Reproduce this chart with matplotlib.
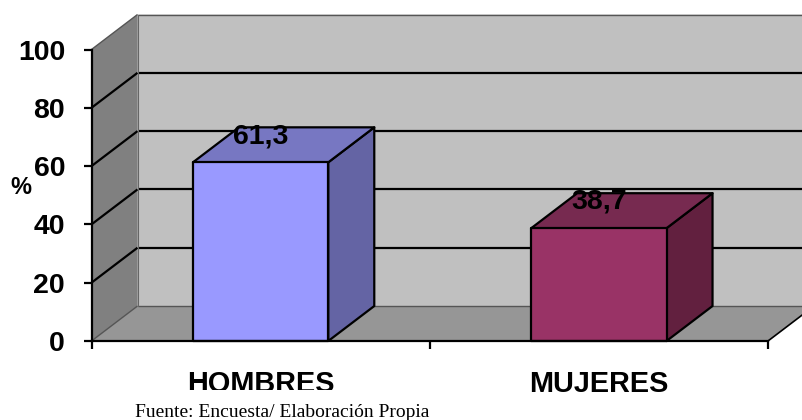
import matplotlib
matplotlib.use("Agg")
import matplotlib.pyplot as plt
from matplotlib.patches import Polygon, Rectangle

categorias = ["HOMBRES", "MUJERES"]
valores = [61.3, 38.7]
etiquetas = ["61,3", "38,7"]
yticks = [0, 20, 40, 60, 80, 100]
colores_frente = ["#9999ff", "#993366"]
colores_lado = ["#6464a4", "#62203f"]
colores_arriba = ["#7777c2", "#772a50"]

W, H = 802, 420
fig = plt.figure(figsize=(W / 100, H / 100), dpi=100, facecolor="white")
ax = fig.add_axes([91.5 / W, (H - 341) / H, (768 - 91.5) / W, 291.5 / H])
ax.set_xlim(0, 2)
ax.set_ylim(0, 100)
ax.patch.set_visible(False)

# 3d offset of the box, in data units
dx = 46 / 338.25
dy = 12.0
ancho = 0.40


def poly(pts, color, ec="black", lw=1.6, z=1):
    ax.add_patch(Polygon(pts, closed=True, fc=color, ec=ec, lw=lw, zorder=z, clip_on=False, joinstyle="round"))


# walls and floor
poly([(0, 0), (dx, dy), (2 + dx, dy), (2 + dx, 100 + dy), (dx, 100 + dy)], "#c0c0c0", ec="none", lw=0, z=1)
poly([(0, 0), (dx, dy), (dx, 100 + dy), (0, 100)], "#808080", ec="none", lw=0, z=1)
poly([(0, 0), (dx, dy), (2 + dx, dy), (2, 0)], "#969696", ec="none", lw=0, z=1)

# grid lines on the walls
for t in yticks:
    color = "black"
    lw = 1.6
    if t in (0, 100):
        color = "#555555"
        lw = 1.0
    ax.plot([0, dx], [t, t + dy], color=color, lw=lw, zorder=2, clip_on=False, solid_capstyle="butt")
    ax.plot([dx, 2 + dx], [t + dy, t + dy], color=color, lw=lw, zorder=2, clip_on=False, solid_capstyle="butt")
ax.plot([2, 2 + dx], [0, dy], color="black", lw=1.2, zorder=2, clip_on=False)
ax.plot([dx, dx], [dy, 100 + dy], color="#666666", lw=0.8, zorder=2, clip_on=False)

# bars
for i, v in enumerate(valores):
    x0 = i + 0.5 - ancho / 2
    x1 = i + 0.5 + ancho / 2
    poly([(x1, 0), (x1 + dx, dy), (x1 + dx, v + dy), (x1, v)], colores_lado[i], z=3)
    poly([(x0, v), (x1, v), (x1 + dx, v + dy), (x0 + dx, v + dy)], colores_arriba[i], z=3)
    poly([(x0, 0), (x1, 0), (x1, v), (x0, v)], colores_frente[i], z=4)
    ax.text(i + 0.5, v + 9.0, etiquetas[i], ha="center", va="center", fontsize=20.5, fontweight="bold",
            family="Liberation Sans", color="black", zorder=6)

for s in ("top", "right"):
    ax.spines[s].set_visible(False)
for s in ("left", "bottom"):
    ax.spines[s].set_linewidth(1.6)
    ax.spines[s].set_zorder(5)

ax.set_yticks(yticks)
ax.set_yticklabels([str(t) for t in yticks], fontsize=20.5, fontweight="bold", family="Liberation Sans")
ax.set_xticks([0, 1, 2])
ax.set_xticklabels([])
ax.tick_params(axis="both", length=6, width=1.6, color="black")
ax.tick_params(axis="y", pad=13)

# category labels, the first one is cut at the bottom in the source image
for i, c in enumerate(categorias):
    t = ax.text(i + 0.5, -14.8, c, ha="center", va="center", fontsize=20.8, fontweight="bold",
                family="Liberation Sans", color="black", clip_on=False)
    if i == 0:
        t.set_clip_path(Rectangle((0, H - 390), W, 60, transform=None))
        t.set_clip_on(True)

fig.text(20.5 / W, (H - 188) / H, "%", ha="center", va="center", fontsize=17, fontweight="bold",
         family="Liberation Sans")
fig.text(135 / W, (H - 412.5) / H, "Fuente: Encuesta/ Elaboración Propia", ha="left", va="center", fontsize=14,
         family="Liberation Serif")

fig.savefig("out.png", dpi=100)
